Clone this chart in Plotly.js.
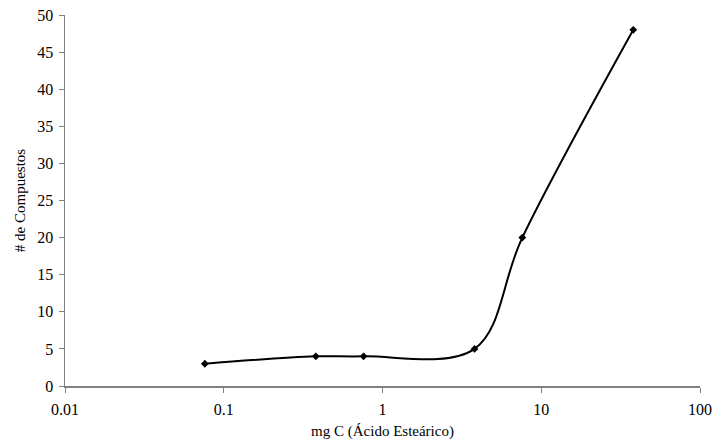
<!DOCTYPE html>
<html>
<head>
<meta charset="utf-8">
<script src="https://cdn.plot.ly/plotly-3.0.1.min.js"></script>
<style>
  html, body { margin: 0; padding: 0; background: #fff; }
  #chart { width: 715px; height: 444px; }
</style>
</head>
<body>
<div id="chart"></div>
<script>
// Number of compounds detected versus mg of carbon (stearic acid)
const mgCarbon = [0.076, 0.38, 0.76, 3.8, 7.6, 38];
const compuestos = [3, 4, 4, 5, 20, 48];
const xTickVals = [0.01, 0.1, 1, 10, 100];
const xTickText = ['0.01', '0.1', '1', '10', '100'];

const tickFont = { family: '"Liberation Serif", "Times New Roman", serif', size: 16, color: '#000' };
const titleFont = { family: '"Liberation Serif", "Times New Roman", serif', size: 15, color: '#000' };

const trace = {
  x: mgCarbon,
  y: compuestos,
  type: 'scatter',
  mode: 'lines+markers',
  line: { color: '#000', width: 2, shape: 'spline', smoothing: 1 },
  marker: { symbol: 'diamond', size: 6, color: '#000' },
  cliponaxis: false,
  hoverinfo: 'x+y'
};

const layout = {
  width: 715,
  height: 444,
  margin: { l: 65, r: 15, t: 15, b: 58 },
  paper_bgcolor: '#fff',
  plot_bgcolor: '#fff',
  font: tickFont,
  showlegend: false,
  xaxis: {
    type: 'log',
    range: [-2, 2],
    tickvals: xTickVals,
    ticktext: xTickText,
    ticks: 'outside',
    ticklen: 5,
    tickcolor: '#808080',
    ticklabelstandoff: 3,
    showline: true,
    linecolor: '#808080',
    linewidth: 1.5,
    showgrid: false,
    zeroline: false,
    tickfont: tickFont,
    title: { text: 'mg C (Ácido Esteárico)', font: titleFont, standoff: 9 }
  },
  yaxis: {
    range: [0, 50],
    dtick: 5,
    tick0: 0,
    ticks: 'outside',
    ticklen: 5,
    tickcolor: '#808080',
    ticklabelstandoff: 2,
    showline: true,
    linecolor: '#808080',
    linewidth: 1.5,
    showgrid: false,
    zeroline: false,
    tickfont: tickFont,
    title: { text: '# de Compuestos', font: titleFont, standoff: 8 }
  }
};

Plotly.newPlot('chart', [trace], layout, { displayModeBar: false, staticPlot: true });
</script>
</body>
</html>
